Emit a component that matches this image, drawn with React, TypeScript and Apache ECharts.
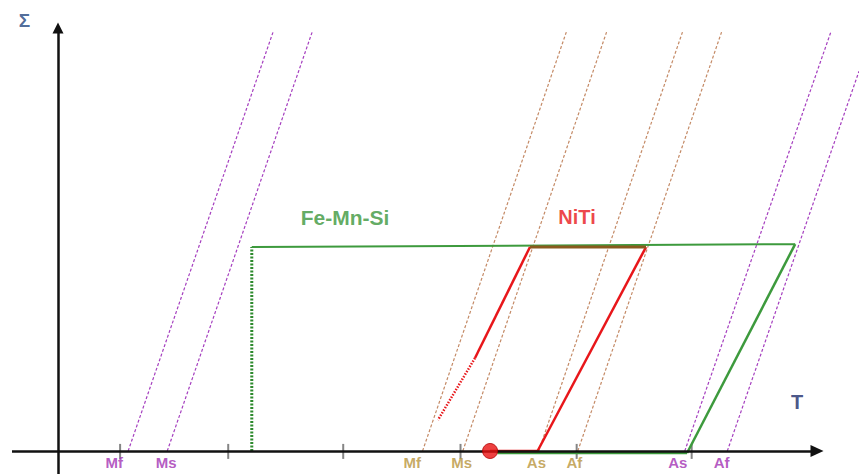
import React, { useEffect, useRef } from "react";
import * as echarts from "echarts";

// Temperature (T) and stress (Σ) in schematic units
const lineTopSigma = 10.27;
const purpleStartT = [6.1, 9.5, 54.5, 58.2];
const purpleTopT = [18.7, 22.1, 67.2, 69.65];
const purpleTopSigma = [10.27, 10.27, 10.27, 9.31];
const brownStartT = [31.7, 35.2, 41.8, 45.2];
const brownTopT = [44.2, 47.7, 54.3, 57.7];

const axisTicksT = [5.4, 14.8, 24.8, 35, 45.1, 55.1];
const tAxisRange = [-4, 66];

const tempLabels = ["Mf", "Ms", "Mf", "Ms", "As", "Af", "As", "Af"];
const tempLabelT = [4.9, 9.4, 30.8, 35.1, 41.6, 44.9, 53.9, 57.7];
const tempLabelAlloy = ["FeMnSi", "FeMnSi", "NiTi", "NiTi", "NiTi", "NiTi", "FeMnSi", "FeMnSi"];

const feMnSiLoad = [[16.85, 0], [16.85, 5.0]];
const feMnSiTop = [[16.85, 5.0], [64.1, 5.07]];
const feMnSiRecovery = [[64.1, 5.07], [54.7, -0.05]];
const feMnSiCool = [[54.7, -0.05], [38.2, -0.05]];

const nitiLoadSolid = [[41.04, 5.0], [36.26, 2.28]];
const nitiLoadDotted = [[36.26, 2.28], [33.04, 0.76]];
const nitiTop = [[41.04, 5.0], [51.13, 5.0]];
const nitiRecovery = [[51.13, 5.0], [41.7, 0]];
const nitiBase = [[37.57, 0], [41.7, 0]];
const startPoint = [37.57, 0];

const PURPLE = "#a53fbf";
const BROWN = "#c48a66";
const PURPLE_TXT = "#a231b3";
const BROWN_TXT = "#b8943c";
const GREEN = "#3d9a3d";
const RED = "#e8161a";
const FONT = "Liberation Sans, Arial, sans-serif";

export default function App() {
  const ref = useRef<HTMLDivElement>(null);
  useEffect(() => {
    if (!ref.current) return;
    const chart = echarts.init(ref.current, undefined, { renderer: "svg" });

    const lineSeries = (data: number[][], color: string, width: number, type: any, z = 2) => ({
      type: "line",
      data,
      showSymbol: false,
      symbol: "none",
      clip: false,
      silent: true,
      z,
      lineStyle: { color, width, type },
    });

    const series: any[] = [];
    purpleStartT.forEach((t, i) => {
      series.push(lineSeries([[t, 0], [purpleTopT[i], purpleTopSigma[i]]], PURPLE, 1.2, [3, 2]));
    });
    brownStartT.forEach((t, i) => {
      series.push(lineSeries([[t, 0], [brownTopT[i], lineTopSigma]], BROWN, 1.2, [3, 2]));
    });
    series.push(lineSeries(feMnSiLoad, "#2e8b2e", 3, [2, 1.5], 3));
    series.push(lineSeries(feMnSiTop, GREEN, 2, "solid", 3));
    series.push(lineSeries(feMnSiRecovery, GREEN, 2.5, "solid", 3));
    series.push(lineSeries(feMnSiCool, GREEN, 2.5, "solid", 3));
    series.push(lineSeries(nitiLoadSolid, RED, 2.5, "solid", 4));
    series.push(lineSeries(nitiLoadDotted, RED, 2.5, [1.5, 1.5], 4));
    series.push(lineSeries(nitiRecovery, RED, 2.5, "solid", 4));
    series.push(lineSeries(nitiBase, RED, 2.5, "solid", 4));
    series.push(lineSeries(nitiTop, "#8a5a1e", 3, "solid", 4));

    // T axis line with arrow
    series.push({
      type: "line",
      data: [],
      silent: true,
      z: 1,
      markLine: {
        silent: true,
        symbol: ["none", "triangle"],
        symbolSize: [12, 13],
        label: { show: false },
        lineStyle: { color: "#111", width: 2.5, type: "solid" },
        emphasis: { disabled: true },
        data: [[{ coord: [tAxisRange[0], 0] }, { coord: [tAxisRange[1], 0] }]],
      },
    });

    series.push({
      type: "scatter",
      data: axisTicksT.map((t) => [t, -0.01]),
      symbol: "rect",
      symbolSize: [2, 15],
      itemStyle: { color: "#666" },
      clip: false,
      silent: true,
      z: 1,
    });

    series.push({
      type: "scatter",
      data: [startPoint],
      symbolSize: 15,
      itemStyle: { color: "#e81010", borderColor: "#b00000", borderWidth: 1 },
      clip: false,
      silent: true,
      z: 6,
    });

    const txt = (name: string, t: number, s: number, color: string, size: number) => ({
      value: [t, s],
      name,
      label: {
        show: true,
        position: "inside",
        formatter: name,
        color,
        fontSize: size,
        fontWeight: "bold",
        fontFamily: FONT,
      },
    });

    const textItems: any[] = tempLabels.map((n, i) =>
      txt(n, tempLabelT[i], -0.294, tempLabelAlloy[i] === "NiTi" ? BROWN_TXT : PURPLE_TXT, 15)
    );
    textItems.push(txt("Fe-Mn-Si", 24.96, 5.735, "#3a963a", 21));
    textItems.push(txt("NiTi", 45.13, 5.735, RED, 20));
    textItems.push(txt("Σ", -2.91, 10.56, "#24467f", 19));
    textItems.push(txt("T", 64.26, 1.2, "#1a2a6a", 20));

    series.push({
      type: "scatter",
      data: textItems,
      symbolSize: 1,
      itemStyle: { color: "rgba(0,0,0,0)" },
      clip: false,
      silent: true,
      z: 7,
    });

    chart.setOption({
      animation: false,
      backgroundColor: "#ffffff",
      grid: { left: 12, right: 0, top: 28, bottom: 0, containLabel: false, outerBoundsMode: "none" },
      xAxis: {
        type: "value",
        min: -4,
        max: 69.65,
        axisLine: { show: false },
        axisTick: { show: false },
        axisLabel: { show: false },
        splitLine: { show: false },
      },
      yAxis: {
        type: "value",
        min: -0.564,
        max: 10.37,
        axisLine: {
          onZero: true,
          symbol: ["none", "triangle"],
          symbolSize: [11, 11],
          lineStyle: { color: "#111", width: 2.5 },
        },
        axisTick: { show: false },
        axisLabel: { show: false },
        splitLine: { show: false },
      },
      series,
    });
    return () => chart.dispose();
  }, []);
  return (
    <div
      ref={ref}
      style={{ position: "fixed", left: 0, top: 0, width: 859, height: 474 }}
    />
  );
}
